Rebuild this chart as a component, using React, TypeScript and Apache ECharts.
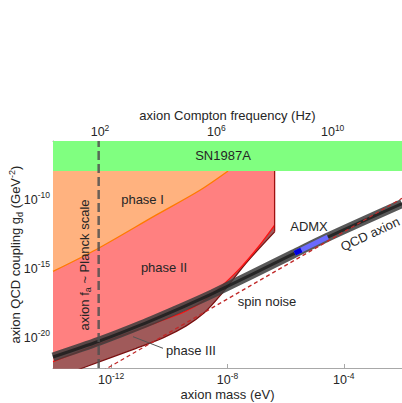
import React, { useEffect, useRef } from 'react';
import * as echarts from 'echarts';

// axes (log10 units)
const X_MIN = -14;
const X_MAX = -2;
const Y_MIN = -22.21;
const Y_MAX = -5.74;
const LOG_INV_H = 14.3835; // log10 of 1/h (Hz per eV)

const massTicks = [-12, -8, -4];
const freqTicks = [2, 6, 10];
const couplingTicks = [-20, -15, -10];

// SN1987A lower edge of excluded band
const snLimit = -7.91;

// phase I boundary
const phase1Mass = [-14, -12.51, -10.46, -8.95, -7.98];
const phase1G = [-15.2, -13.61, -11.12, -9.31, -7.91];

// phase II boundary
const phase2Mass = [-14, -12.4, -11.14, -10.2, -9.42, -8.9, -8.39, -7.59, -6.9, -6.38];
const phase2G = [-21.75, -20.45, -19.46, -18.72, -18.06, -17.45, -16.62, -15.02, -13.32, -11.85];

// phase III boundary
const phase3Mass = [-14, -12.98, -11.14, -10.2, -9.42, -8.8, -8.27, -7.36, -6.38];
const phase3G = [-23.0, -22.21, -20.78, -20.0, -19.15, -18.2, -17.0, -14.6, -12.33];

// QCD axion band
const qcdMass = [-14, -12.4, -11, -9.5, -8.5, -5.75, -4.59, -2];
const qcdG = [-21.41, -20.25, -19.1, -17.75, -16.8, -13.95, -12.75, -10.28];

// ADMX
const admxMass = [-5.69, -4.55];
const admxG = [-13.89, -12.71];
const admxCoreMass = [-5.69, -5.46];
const admxCoreG = [-13.89, -13.65];

// spin noise
const spinMass = [-12.3, -2];
const spinG = [-22.43, -9.9];

// fa ~ Planck scale
const planckMass = -12.43;

const FONT = "'Liberation Sans', Arial, Helvetica, sans-serif";
const TXT = '#262626';
const AX = '#a8a8a8';

const zip = (xs: number[], ys: number[]) => xs.map((x, i) => [x, ys[i]]);

function polygonSeries(pts: number[][], fill: string, z: number) {
  return {
    type: 'custom',
    clip: true,
    silent: true,
    z,
    data: [[X_MIN, Y_MIN]],
    renderItem: (_p: any, api: any) => ({
      type: 'polygon',
      shape: { points: pts.map((p) => api.coord(p)) },
      style: { fill, stroke: 'none' },
    }),
  };
}

function lineSeries(
  pts: number[][],
  color: string,
  width: number,
  z: number,
  opts: { type?: any; opacity?: number; smooth?: number; area?: string } = {}
) {
  const s: any = {
    type: 'line',
    data: pts,
    symbol: 'none',
    silent: true,
    z,
    clip: true,
    smooth: opts.smooth || false,
    lineStyle: { color, width, type: opts.type || 'solid', opacity: opts.opacity ?? 1, cap: 'butt' },
  };
  if (opts.area) s.areaStyle = { color: opts.area, opacity: 1, origin: 'end' };
  return s;
}

const tickRich = {
  b: { fontSize: 12.5, lineHeight: 18, fontFamily: FONT, color: TXT },
  s: { fontSize: 8.5, lineHeight: 8, verticalAlign: 'top', fontFamily: FONT, color: TXT },
};
const powLabel = (v: number) => `{b|10}{s|${Math.round(v)}}`;

export default function App() {
  const ref = useRef<HTMLDivElement>(null);
  useEffect(() => {
    if (!ref.current) return;
    const chart = echarts.init(ref.current, undefined, { renderer: 'svg' });

    const snPoly = [
      [X_MIN, snLimit],
      [X_MAX, snLimit],
      [X_MAX, Y_MAX],
      [X_MIN, Y_MAX],
    ];
    const edgeX = phase2Mass[phase2Mass.length - 1];
    const SM = 0.3;

    const option: any = {
      animation: false,
      grid: { left: 53, top: 141, right: 0, bottom: 35, outerBoundsMode: 'none', containLabel: false },
      xAxis: [
        {
          type: 'value',
          position: 'bottom',
          min: X_MIN,
          max: X_MAX,
          name: 'axion mass (eV)',
          nameLocation: 'middle',
          nameGap: 20,
          nameMoveOverlap: false,
          nameTextStyle: { fontFamily: FONT, fontSize: 13, color: TXT, verticalAlign: 'top' },
          axisLine: { show: true, lineStyle: { color: AX, width: 1 } },
          axisTick: { show: true, inside: true, length: 4, customValues: massTicks, lineStyle: { color: AX } },
          axisLabel: { customValues: massTicks, formatter: powLabel, rich: tickRich, margin: 3 },
          splitLine: { show: false },
        },
        {
          type: 'value',
          position: 'top',
          min: X_MIN + LOG_INV_H,
          max: X_MAX + LOG_INV_H,
          name: 'axion Compton frequency (Hz)',
          nameLocation: 'middle',
          nameGap: 19,
          nameMoveOverlap: false,
          nameTextStyle: { fontFamily: FONT, fontSize: 13, color: TXT, verticalAlign: 'bottom' },
          axisLine: { show: true, lineStyle: { color: AX, width: 1 } },
          axisTick: { show: true, inside: true, length: 4, customValues: freqTicks, lineStyle: { color: AX } },
          axisLabel: { customValues: freqTicks, formatter: powLabel, rich: tickRich, margin: 0 },
          splitLine: { show: false },
        },
      ],
      yAxis: {
        type: 'value',
        min: Y_MIN,
        max: Y_MAX,
        name: '{n|axion QCD coupling g}{sub|d}{n| (GeV}{sup|-2}{n|)}',
        nameLocation: 'middle',
        nameGap: 29,
        nameMoveOverlap: false,
        nameTextStyle: {
          rich: {
            n: { fontFamily: FONT, fontSize: 13, lineHeight: 17, color: TXT },
            sub: { fontFamily: FONT, fontSize: 9, lineHeight: 9, verticalAlign: 'bottom', color: TXT },
            sup: { fontFamily: FONT, fontSize: 9, lineHeight: 9, verticalAlign: 'top', color: TXT },
          },
        },
        axisLine: { show: true, lineStyle: { color: AX, width: 1 } },
        axisTick: { show: true, inside: true, length: 4, customValues: couplingTicks, lineStyle: { color: AX } },
        axisLabel: { customValues: couplingTicks, formatter: powLabel, rich: tickRich, margin: 3 },
        splitLine: { show: false },
      },
      series: [
        // phase III (filled from its lower edge upward, covered above by phase II)
        lineSeries(zip(phase3Mass, phase3G), '#7a1010', 1.3, 2, { smooth: SM, area: '#a05a5a' }),
        // phase II
        lineSeries(zip(phase2Mass, phase2G), '#ff1010', 1.3, 3, { smooth: SM, area: '#ff8080' }),
        // phase I
        lineSeries(zip(phase1Mass, phase1G), '#ff7a00', 1.3, 4, { smooth: SM, area: '#ffb27f' }),
        polygonSeries(snPoly, '#80ff80', 5),
        lineSeries([[edgeX, snLimit], [edgeX, phase3G[phase3G.length - 1]]], '#a01010', 1.3, 6),
        lineSeries(zip(qcdMass, qcdG), '#3c3c3c', 9, 7, { opacity: 0.85, smooth: SM }),
        lineSeries(zip(qcdMass, qcdG), '#1a1a1a', 3, 8, { opacity: 0.8, smooth: SM }),
        lineSeries(zip(admxMass, admxG), '#6a6aff', 5, 9),
        lineSeries(zip(admxCoreMass, admxCoreG), '#0000e0', 5, 10),
        lineSeries(zip(spinMass, spinG), '#c02828', 1.3, 10, { type: [4, 3] }),
        lineSeries([[planckMass, Y_MIN], [planckMass, Y_MAX]], '#505050', 2.5, 11, { type: [9, 4], opacity: 0.85 }),
      ],
      graphic: [
        { type: 'text', x: 223, y: 155, z: 20, style: { text: 'SN1987A', font: `13px ${FONT}`, fill: TXT, align: 'center', verticalAlign: 'middle' } },
        { type: 'text', x: 142.5, y: 199, z: 20, style: { text: 'phase I', font: `13px ${FONT}`, fill: TXT, align: 'center', verticalAlign: 'middle' } },
        { type: 'text', x: 164, y: 267, z: 20, style: { text: 'phase II', font: `13px ${FONT}`, fill: TXT, align: 'center', verticalAlign: 'middle' } },
        { type: 'text', x: 191, y: 350, z: 20, style: { text: 'phase III', font: `13px ${FONT}`, fill: TXT, align: 'center', verticalAlign: 'middle' } },
        { type: 'line', z: 20, shape: { x1: 133, y1: 336.7, x2: 163, y2: 348.3 }, style: { stroke: '#555', lineWidth: 1 } },
        { type: 'text', x: 267, y: 301.7, z: 20, style: { text: 'spin noise', font: `13px ${FONT}`, fill: TXT, align: 'center', verticalAlign: 'middle' } },
        { type: 'text', x: 309, y: 226.7, z: 20, style: { text: 'ADMX', font: `13px ${FONT}`, fill: TXT, align: 'center', verticalAlign: 'middle' } },
        { type: 'text', x: 370, y: 234, z: 20, rotation: (25 * Math.PI) / 180, style: { text: 'QCD axion', font: `13px ${FONT}`, fill: TXT, align: 'center', verticalAlign: 'middle' } },
        {
          type: 'text', x: 84, y: 265, z: 20, rotation: Math.PI / 2,
          style: {
            text: '{n|axion f}{s|a}{n| ~ Planck scale}',
            align: 'center', verticalAlign: 'middle',
            rich: {
              n: { fontFamily: FONT, fontSize: 13, lineHeight: 17, fill: TXT },
              s: { fontFamily: FONT, fontSize: 9, lineHeight: 9, verticalAlign: 'bottom', fill: TXT },
            },
          },
        },
      ],
    };
    chart.setOption(option);
    return () => chart.dispose();
  }, []);
  return <div ref={ref} style={{ width: 402, height: 403, position: 'absolute', left: 0, top: 0 }} />;
}
